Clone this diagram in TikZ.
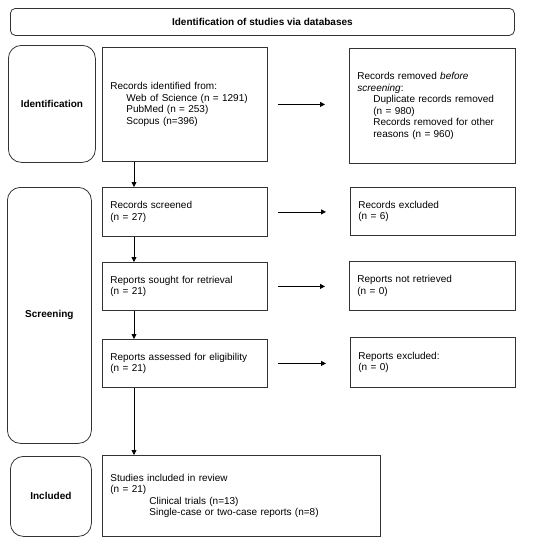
\documentclass[tikz,border=0pt]{standalone}
\usepackage{fontspec}
\setmainfont{Liberation Sans}
\usetikzlibrary{arrows.meta}

\begin{document}
\begin{tikzpicture}[
    x=1pt, y=-1pt,
    box/.style={draw=black!80, line width=0.8pt, anchor=north west, align=left,
      inner xsep=8pt, font=\fontsize{10}{11.6}\selectfont},
    phase/.style={draw=black!80, line width=0.8pt, rounded corners=13pt, anchor=north west,
      font=\bfseries\fontsize{10}{12}\selectfont},
    arr/.style={-{Triangle[length=5pt,width=5pt]}, line width=0.8pt},
  ]
  \useasboundingbox (0,0) rectangle (550,542);

  % header and phases
  \node[phase, rounded corners=5pt, minimum width=504pt, minimum height=27pt] (head) at (10,8)
    {Identification of studies via databases};
  \node[phase, minimum width=87pt, minimum height=117pt] (pid) at (8,45) {Identification};
  \node[phase, minimum width=84pt, minimum height=256pt] (pscr) at (7,187) {Screening};
  \node[phase, minimum width=81pt, minimum height=80pt] (pinc) at (10,456) {Included};

  % left column
  \node[box, text width=149pt, minimum height=114pt] (ident) at (102,47)
    {Records identified from:\\\hspace*{16pt}Web of Science (n = 1291)\\\hspace*{16pt}PubMed (n = 253)\\\hspace*{16pt}Scopus (n=396)};
  \node[box, text width=149pt, minimum height=49pt] (screen) at (102,187)
    {Records screened\\(n = 27)};
  \node[box, text width=149pt, minimum height=48pt] (sought) at (102,262)
    {Reports sought for retrieval\\(n = 21)};
  \node[box, text width=149pt, minimum height=48pt] (assess) at (102,339)
    {Reports assessed for eligibility\\(n = 21)};
  \node[box, text width=262pt, minimum height=81pt] (incl) at (102,455)
    {Studies included in review\\(n = 21)\\\hspace*{39pt}Clinical trials (n=13)\\\hspace*{39pt}Single-case or two-case reports (n=8)};

  % right column
  \node[box, text width=150pt, minimum height=115pt] (removed) at (349,48)
    {Records removed \textit{before}\\\textit{screening}:\\\hspace*{16pt}Duplicate records removed\\\hspace*{16pt}(n = 980)\\\hspace*{16pt}Records removed for other\\\hspace*{16pt}reasons (n = 960)};
  \node[box, text width=149pt, minimum height=48pt] (excl) at (350,187)
    {Records excluded\\(n = 6)};
  \node[box, text width=150pt, minimum height=49pt] (notret) at (349,261)
    {Reports not retrieved\\(n = 0)};
  \node[box, text width=149pt, minimum height=50pt] (rexcl) at (350,337)
    {Reports excluded:\\(n = 0)};

  % arrows down
  \draw[arr] ([xshift=32pt]ident.south west) -- ([xshift=32pt]screen.north west);
  \draw[arr] ([xshift=32pt]screen.south west) -- ([xshift=32pt]sought.north west);
  \draw[arr] ([xshift=32pt]sought.south west) -- ([xshift=32pt]assess.north west);
  \draw[arr] ([xshift=32pt]assess.south west) -- ([xshift=32pt]incl.north west);

  % arrows right
  \draw[arr, shorten <=10pt, shorten >=24pt] (ident.east) -- (ident.east -| removed.west);
  \draw[arr, shorten <=10pt, shorten >=24pt] (screen.east) -- (screen.east -| excl.west);
  \draw[arr, shorten <=10pt, shorten >=24pt] (sought.east) -- (sought.east -| notret.west);
  \draw[arr, shorten <=10pt, shorten >=24pt] (assess.east) -- (assess.east -| rexcl.west);
\end{tikzpicture}
\end{document}
